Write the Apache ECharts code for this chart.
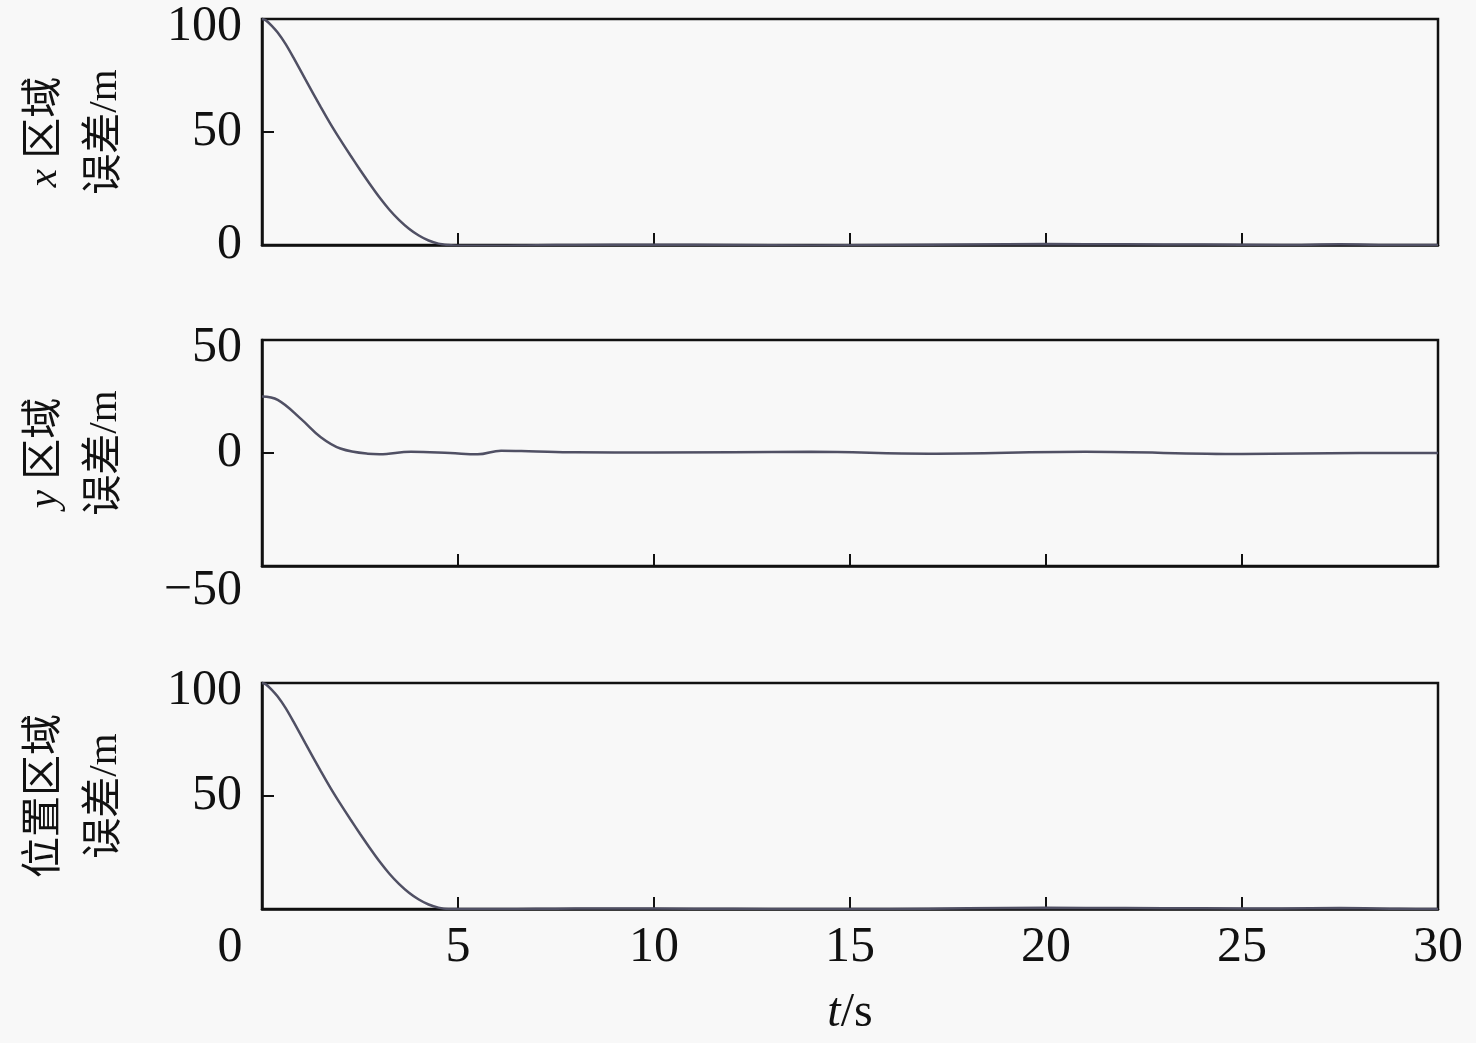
<!DOCTYPE html>
<html><head><meta charset="utf-8">
<script src="https://cdn.jsdelivr.net/npm/echarts@6/dist/echarts.min.js"></script>
<style>html,body{margin:0;padding:0;background:#f8f8f8}#c{width:1476px;height:1043px}</style>
</head><body><div id="c"></div>
<script>
// time samples (s) and errors (m)
const tX = [0,0.1,0.25,0.4,0.6,0.8,1.1,1.5,1.75,2,2.25,2.5,2.75,3,3.25,3.5,3.75,4,4.25,4.5,4.75,5,6,7,8,10,12,14,16,18,20,22,24,26,27.5,29,30];
const xErr = [100,99.4,97,94,89,83,73.5,61,53.5,46.5,39.8,33.3,27,21,15.6,11,7.2,4.2,2,0.6,0,-0.3,-0.3,-0.1,0,0.1,0,-0.2,0,0.2,0.4,0.3,0.2,0,0.3,0,0];
const tY = [0,0.4,1,1.5,2,2.7,3,3.8,4.8,5.5,6.1,6.8,8,10,14,17,21,25,28,30];
const yErr = [25,23.5,15,7,2,-0.3,-0.5,0.6,0,-0.6,1,0.8,0.3,0.2,0.5,-0.3,0.5,-0.4,0,0];
const tP = [0,0.1,0.25,0.4,0.6,0.8,1.1,1.5,1.75,2,2.25,2.5,2.75,3,3.25,3.5,3.75,4,4.25,4.5,4.75,5,6,7,8,10,12,14,16,18,20,22,24,26,27.5,29,30];
const pErr = [100,99.4,97,94,89,83,73.5,61,53.5,46.5,39.8,33.3,27,21,15.6,11,7.2,4.2,2,0.6,0,0,0,0.1,0.2,0.2,0.1,0,0,0.3,0.5,0.4,0.3,0.2,0.4,0.1,0];
const xTicks = [0,5,10,15,20,25,30];

const FONT = '"Liberation Serif","Noto Sans CJK SC",serif';
const chart = echarts.init(document.getElementById('c'));
const pairs = (t, v) => t.map((x, i) => [x, v[i]]);
const tops = [19, 340, 683];
const H = 226;
function grid(i){ return {left:262, right:38, top:tops[i], height:H, show:true, borderColor:'#111', borderWidth:2.5, backgroundColor:'transparent', containLabel:false, outerBoundsMode:'none'}; }
function xAxis(i, labels){
  return {type:'value', gridIndex:i, min:0, max:30, interval:5,
    axisLine:{show:true, onZero:false, lineStyle:{color:'#111', width:2.5}},
    axisTick:{show:true, inside:true, length:12, lineStyle:{color:'#111', width:2}},
    splitLine:{show:false},
    axisLabel:{show:labels, fontFamily:FONT, fontSize:50, color:'#111', margin:14,
      formatter: v => v === 0 ? '{z|0}' : String(v),
      rich:{z:{fontFamily:FONT, fontSize:50, color:'#111', padding:[0,64,0,0]}}},
    name: labels ? '{i|t}/s' : '', nameLocation:'middle', nameGap:80,
    nameTextStyle:{fontFamily:FONT, fontSize:48, color:'#111',
      rich:{i:{fontFamily:FONT, fontSize:48, fontStyle:'italic', color:'#111'}}}
  };
}
function yAxis(i, min, max, interval, name, hideZero, alignMin){
  const ax = {type:'value', gridIndex:i, min:min, max:max, interval:interval,
    axisLine:{show:true, onZero:false, lineStyle:{color:'#111', width:2.5}},
    axisTick:{show:true, inside:true, length:12, lineStyle:{color:'#111', width:2}},
    splitLine:{show:false},
    axisLabel:{fontFamily:FONT, fontSize:50, color:'#111', margin:20,
      formatter: v => {
        if (hideZero && v === 0) return '';
        const s = v < 0 ? '\u2212' + Math.abs(v) : String(v);
        return v === max ? '{m|' + s + '}' : s;
      },
      rich:{m:{fontFamily:FONT, fontSize:50, color:'#111', padding:[16,0,0,0]}}},
    name:name, nameLocation:'middle', nameRotate:90, nameGap:127,
    nameTextStyle:{fontFamily:FONT, fontSize:41, color:'#111', lineHeight:60, align:'center',
      rich:{i:{fontFamily:FONT, fontSize:41, fontStyle:'italic', color:'#111', lineHeight:60}}}
  };
  if (alignMin) ax.axisLabel.verticalAlignMinLabel = 'top';
  return ax;
}
const lineStyle = {color:'#505064', width:2.5};
chart.setOption({
  backgroundColor:'#f8f8f8',
  animation:false,
  grid:[grid(0), grid(1), grid(2)],
  xAxis:[xAxis(0,false), xAxis(1,false), xAxis(2,true)],
  yAxis:[
    yAxis(0, 0, 100, 50, '{i|x} 区域\n误差/m', false, false),
    yAxis(1, -50, 50, 50, '{i|y} 区域\n误差/m', false, true),
    yAxis(2, 0, 100, 50, '位置区域\n误差/m', true, false)
  ],
  series:[
    {type:'line', xAxisIndex:0, yAxisIndex:0, data:pairs(tX,xErr), smooth:0.3, showSymbol:false, lineStyle:lineStyle},
    {type:'line', xAxisIndex:1, yAxisIndex:1, data:pairs(tY,yErr), smooth:0.4, showSymbol:false, lineStyle:lineStyle},
    {type:'line', xAxisIndex:2, yAxisIndex:2, data:pairs(tP,pErr), smooth:0.3, showSymbol:false, lineStyle:lineStyle}
  ]
});
</script></body></html>
